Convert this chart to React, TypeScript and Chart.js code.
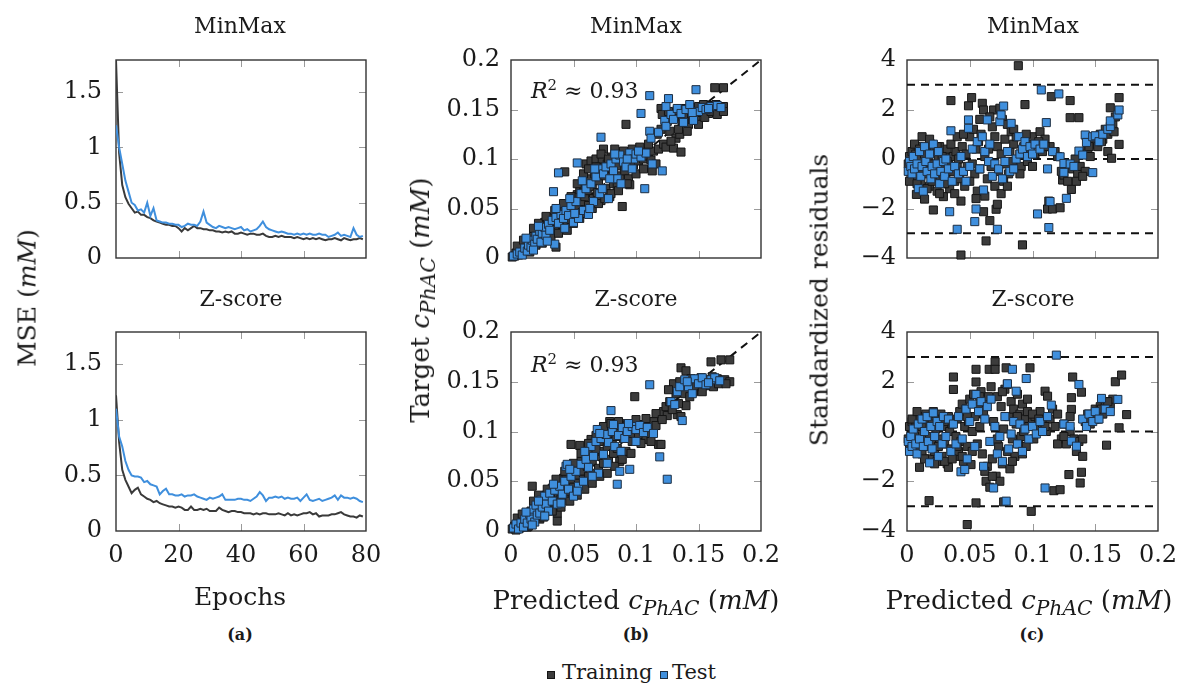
import React, { useEffect, useRef } from 'react';
import { Chart, registerables } from 'chart.js';

Chart.register(...registerables);

const FONT = '"DejaVu Serif", "Liberation Serif", serif';
const INK = '#1a1a1a';
const DARK = '#3a3a3a';
const BLUE = '#3f8fdd';

// ---------- tick labels ----------
const epochTicks = [0, 20, 40, 60, 80];
const mseTicks = [0, 0.5, 1, 1.5];
const concTicks = [0, 0.05, 0.1, 0.15, 0.2];
const residTicks = [-4, -2, 0, 2, 4];
const residLimits = [-3, 0, 3];
const identityLine = [0, 0.2];

// ---------- (a) loss curves ----------
const epochs = Array.from({ length: 80 }, (_, i) => i);

const mseMinMaxTrain = [1.79, 0.95, 0.66, 0.55, 0.49, 0.45, 0.41, 0.42, 0.39, 0.39,
  0.37, 0.36, 0.34, 0.33, 0.32, 0.31, 0.30, 0.30, 0.29, 0.29,
  0.27, 0.24, 0.27, 0.25, 0.27, 0.29, 0.27, 0.27, 0.26, 0.26,
  0.25, 0.25, 0.24, 0.24, 0.23, 0.24, 0.23, 0.24, 0.22, 0.22,
  0.23, 0.22, 0.21, 0.22, 0.22, 0.21, 0.21, 0.22, 0.20, 0.19,
  0.19, 0.20, 0.19, 0.20, 0.19, 0.19, 0.19, 0.18, 0.19, 0.18,
  0.17, 0.18, 0.17, 0.18, 0.17, 0.18, 0.17, 0.16, 0.17, 0.17,
  0.18, 0.17, 0.16, 0.18, 0.17, 0.16, 0.17, 0.17, 0.18, 0.17];

const mseMinMaxTest = [1.20, 1.00, 0.85, 0.70, 0.60, 0.50, 0.48, 0.43, 0.44, 0.41,
  0.50, 0.38, 0.45, 0.34, 0.33, 0.32, 0.32, 0.31, 0.31, 0.30,
  0.30, 0.28, 0.29, 0.31, 0.30, 0.30, 0.29, 0.33, 0.42, 0.32,
  0.30, 0.28, 0.27, 0.29, 0.28, 0.27, 0.28, 0.27, 0.26, 0.27,
  0.28, 0.25, 0.26, 0.24, 0.25, 0.26, 0.29, 0.33, 0.28, 0.26,
  0.25, 0.24, 0.23, 0.24, 0.23, 0.22, 0.22, 0.21, 0.22, 0.21,
  0.22, 0.21, 0.22, 0.21, 0.21, 0.22, 0.21, 0.21, 0.19, 0.20,
  0.21, 0.23, 0.20, 0.21, 0.20, 0.19, 0.27, 0.21, 0.19, 0.20];

const mseZscoreTrain = [1.22, 0.80, 0.55, 0.46, 0.40, 0.34, 0.37, 0.39, 0.33, 0.31,
  0.29, 0.28, 0.26, 0.27, 0.25, 0.24, 0.23, 0.22, 0.22, 0.21,
  0.22, 0.21, 0.19, 0.19, 0.22, 0.19, 0.19, 0.20, 0.19, 0.20,
  0.18, 0.18, 0.18, 0.21, 0.19, 0.18, 0.17, 0.18, 0.18, 0.17,
  0.17, 0.16, 0.16, 0.16, 0.15, 0.16, 0.15, 0.16, 0.16, 0.15,
  0.15, 0.15, 0.16, 0.15, 0.14, 0.16, 0.14, 0.15, 0.14, 0.15,
  0.16, 0.16, 0.17, 0.15, 0.16, 0.13, 0.14, 0.14, 0.14, 0.15,
  0.15, 0.16, 0.17, 0.15, 0.14, 0.13, 0.13, 0.12, 0.14, 0.13];

const mseZscoreTest = [1.10, 0.85, 0.76, 0.63, 0.55, 0.50, 0.49, 0.49, 0.48, 0.44,
  0.45, 0.42, 0.41, 0.40, 0.33, 0.36, 0.38, 0.33, 0.33, 0.32,
  0.32, 0.33, 0.31, 0.32, 0.32, 0.33, 0.31, 0.30, 0.29, 0.28,
  0.30, 0.29, 0.30, 0.31, 0.33, 0.28, 0.28, 0.28, 0.28, 0.29,
  0.29, 0.28, 0.28, 0.27, 0.29, 0.31, 0.35, 0.32, 0.27, 0.30,
  0.30, 0.31, 0.30, 0.31, 0.29, 0.30, 0.29, 0.29, 0.30, 0.27,
  0.30, 0.33, 0.28, 0.27, 0.28, 0.29, 0.27, 0.28, 0.29, 0.30,
  0.32, 0.28, 0.32, 0.30, 0.30, 0.29, 0.30, 0.29, 0.27, 0.26];

// ---------- (b) predicted vs target : [predicted, target] ----------
const predMinMaxTrain = [
  [0.001, 0.001], [0.003, 0.002], [0.004, 0.005], [0.006, 0.003], [0.007, 0.008], [0.008, 0.004], [0.009, 0.011], [0.011, 0.007],
  [0.012, 0.013], [0.013, 0.009], [0.014, 0.016], [0.015, 0.012], [0.016, 0.019], [0.017, 0.014], [0.018, 0.022], [0.019, 0.017],
  [0.02, 0.013], [0.021, 0.025], [0.022, 0.02], [0.023, 0.029], [0.024, 0.017], [0.025, 0.031], [0.026, 0.024], [0.027, 0.036],
  [0.028, 0.027], [0.029, 0.033], [0.03, 0.022], [0.031, 0.038], [0.032, 0.03], [0.033, 0.041], [0.034, 0.034], [0.035, 0.027],
  [0.036, 0.011], [0.036, 0.044], [0.037, 0.037], [0.038, 0.031], [0.039, 0.046], [0.04, 0.04], [0.041, 0.034], [0.043, 0.087],
  [0.043, 0.048], [0.044, 0.042], [0.045, 0.036], [0.046, 0.052], [0.047, 0.045], [0.048, 0.039], [0.049, 0.055], [0.05, 0.048],
  [0.051, 0.06], [0.052, 0.043], [0.053, 0.064], [0.054, 0.052], [0.055, 0.069], [0.056, 0.057], [0.057, 0.046], [0.058, 0.074],
  [0.059, 0.062], [0.06, 0.095], [0.061, 0.068], [0.062, 0.053], [0.063, 0.08], [0.064, 0.098], [0.065, 0.072], [0.066, 0.06],
  [0.067, 0.085], [0.068, 0.1], [0.069, 0.066], [0.07, 0.078], [0.071, 0.092], [0.072, 0.058], [0.073, 0.1], [0.074, 0.11],
  [0.075, 0.083], [0.076, 0.07], [0.077, 0.095], [0.078, 0.087], [0.079, 0.062], [0.08, 0.102], [0.081, 0.09], [0.082, 0.075],
  [0.083, 0.098], [0.084, 0.105], [0.085, 0.072], [0.086, 0.093], [0.087, 0.083], [0.088, 0.101], [0.089, 0.052], [0.09, 0.097],
  [0.091, 0.088], [0.092, 0.135], [0.093, 0.104], [0.094, 0.08], [0.095, 0.074], [0.096, 0.099], [0.098, 0.094], [0.1, 0.105],
  [0.102, 0.098], [0.104, 0.106], [0.106, 0.1], [0.108, 0.103], [0.11, 0.107], [0.112, 0.099], [0.114, 0.108], [0.116, 0.095],
  [0.118, 0.11], [0.12, 0.151], [0.121, 0.145], [0.122, 0.115], [0.124, 0.112], [0.125, 0.138], [0.127, 0.128], [0.13, 0.111],
  [0.131, 0.143], [0.132, 0.121], [0.133, 0.149], [0.135, 0.125], [0.136, 0.107], [0.137, 0.137], [0.139, 0.151], [0.14, 0.143],
  [0.142, 0.135], [0.144, 0.152], [0.146, 0.145], [0.148, 0.139], [0.15, 0.153], [0.152, 0.147], [0.154, 0.155], [0.156, 0.15],
  [0.158, 0.146], [0.16, 0.154], [0.162, 0.149], [0.164, 0.155], [0.163, 0.172], [0.166, 0.151], [0.168, 0.148], [0.17, 0.172],
  [0.17, 0.153],
  [0.005, 0.012], [0.01, 0.018], [0.015, 0.006], [0.018, 0.03], [0.022, 0.035], [0.025, 0.015], [0.028, 0.042], [0.032, 0.02],
  [0.035, 0.048], [0.038, 0.025], [0.042, 0.055], [0.045, 0.028], [0.048, 0.062], [0.05, 0.035], [0.053, 0.075], [0.055, 0.04],
  [0.058, 0.085], [0.06, 0.045], [0.062, 0.09], [0.065, 0.05], [0.068, 0.092], [0.07, 0.055], [0.072, 0.105], [0.075, 0.06],
  [0.078, 0.1], [0.08, 0.065], [0.083, 0.11], [0.086, 0.068], [0.09, 0.108], [0.093, 0.075], [0.097, 0.11], [0.1, 0.085],
  [0.103, 0.112], [0.106, 0.09], [0.11, 0.115], [0.113, 0.088], [0.117, 0.125], [0.12, 0.13], [0.126, 0.148], [0.128, 0.118],
  [0.134, 0.13], [0.138, 0.145], [0.141, 0.128], [0.145, 0.14], [0.15, 0.135], [0.155, 0.142], [0.16, 0.148], [0.165, 0.145],
  [0.17, 0.148]];

const predMinMaxTest = [
  [0.002, 0.002], [0.005, 0.004], [0.007, 0.006], [0.009, 0.003], [0.011, 0.01], [0.013, 0.007], [0.014, 0.013], [0.016, 0.011],
  [0.017, 0.018], [0.019, 0.014], [0.02, 0.022], [0.021, 0.019], [0.023, 0.027], [0.024, 0.016], [0.025, 0.025], [0.027, 0.031],
  [0.028, 0.023], [0.03, 0.034], [0.031, 0.028], [0.033, 0.038], [0.034, 0.067], [0.035, 0.014], [0.036, 0.041], [0.038, 0.035],
  [0.038, 0.086], [0.04, 0.044], [0.042, 0.04], [0.044, 0.048], [0.046, 0.043], [0.048, 0.053], [0.05, 0.036], [0.052, 0.057],
  [0.053, 0.096], [0.054, 0.04], [0.056, 0.065], [0.058, 0.048], [0.06, 0.07], [0.062, 0.044], [0.064, 0.075], [0.066, 0.057],
  [0.068, 0.082], [0.07, 0.09], [0.071, 0.065], [0.072, 0.122], [0.074, 0.085], [0.076, 0.092], [0.078, 0.06], [0.08, 0.095],
  [0.082, 0.088], [0.084, 0.1], [0.085, 0.08], [0.087, 0.104], [0.09, 0.097], [0.092, 0.092], [0.095, 0.106], [0.098, 0.1],
  [0.1, 0.105], [0.104, 0.102], [0.104, 0.146], [0.107, 0.07], [0.108, 0.106], [0.111, 0.164], [0.111, 0.128], [0.112, 0.121],
  [0.113, 0.095], [0.118, 0.127], [0.121, 0.088], [0.123, 0.139], [0.124, 0.133], [0.124, 0.153], [0.126, 0.161], [0.128, 0.145],
  [0.13, 0.14], [0.133, 0.151], [0.136, 0.146], [0.138, 0.137], [0.14, 0.15], [0.143, 0.155], [0.146, 0.139], [0.148, 0.17],
  [0.15, 0.148], [0.153, 0.152], [0.156, 0.15], [0.16, 0.153], [0.165, 0.154], [0.168, 0.152],
  [0.012, 0.02], [0.018, 0.008], [0.022, 0.032], [0.029, 0.017], [0.036, 0.05], [0.043, 0.03], [0.047, 0.06], [0.051, 0.045],
  [0.057, 0.078], [0.063, 0.05], [0.067, 0.09], [0.073, 0.07], [0.079, 0.08], [0.083, 0.105], [0.088, 0.075], [0.093, 0.1],
  [0.097, 0.09], [0.102, 0.108], [0.145, 0.147], [0.158, 0.151]];

const predZscoreTrain = [
  [0.001, 0.002], [0.003, 0.005], [0.004, 0.001], [0.006, 0.007], [0.007, 0.003], [0.008, 0.01], [0.01, 0.006], [0.011, 0.013],
  [0.012, 0.009], [0.013, 0.004], [0.014, 0.016], [0.015, 0.011], [0.016, 0.02], [0.017, 0.045], [0.018, 0.014], [0.019, 0.023],
  [0.02, 0.017], [0.021, 0.027], [0.022, 0.02], [0.023, 0.012], [0.024, 0.03], [0.025, 0.024], [0.026, 0.033], [0.027, 0.019],
  [0.028, 0.036], [0.029, 0.028], [0.03, 0.04], [0.031, 0.025], [0.032, 0.033], [0.033, 0.043], [0.034, 0.03], [0.035, 0.022],
  [0.036, 0.046], [0.037, 0.01], [0.037, 0.018], [0.038, 0.038], [0.039, 0.05], [0.04, 0.032], [0.041, 0.045], [0.042, 0.053],
  [0.043, 0.036], [0.044, 0.058], [0.045, 0.048], [0.046, 0.04], [0.047, 0.062], [0.048, 0.087], [0.049, 0.052], [0.05, 0.044],
  [0.052, 0.066], [0.053, 0.056], [0.054, 0.048], [0.055, 0.086], [0.056, 0.07], [0.057, 0.06], [0.058, 0.052], [0.06, 0.075],
  [0.061, 0.065], [0.062, 0.055], [0.063, 0.08], [0.064, 0.092], [0.065, 0.07], [0.066, 0.058], [0.067, 0.085], [0.068, 0.096],
  [0.069, 0.075], [0.07, 0.063], [0.071, 0.09], [0.072, 0.099], [0.073, 0.08], [0.074, 0.068], [0.075, 0.094], [0.076, 0.102],
  [0.077, 0.085], [0.078, 0.072], [0.079, 0.11], [0.08, 0.098], [0.081, 0.09], [0.082, 0.078], [0.083, 0.104], [0.084, 0.095],
  [0.085, 0.083], [0.086, 0.1], [0.087, 0.07], [0.088, 0.106], [0.09, 0.093], [0.091, 0.101], [0.092, 0.08], [0.094, 0.104],
  [0.096, 0.097], [0.097, 0.09], [0.099, 0.135], [0.1, 0.103], [0.102, 0.097], [0.104, 0.107], [0.106, 0.1], [0.108, 0.092],
  [0.11, 0.104], [0.112, 0.098], [0.114, 0.11], [0.116, 0.106], [0.118, 0.087], [0.12, 0.087], [0.122, 0.12], [0.124, 0.125],
  [0.125, 0.116], [0.127, 0.13], [0.13, 0.148], [0.132, 0.138], [0.133, 0.117], [0.135, 0.15], [0.136, 0.115], [0.136, 0.164],
  [0.138, 0.142], [0.14, 0.161], [0.14, 0.126], [0.142, 0.148], [0.144, 0.153], [0.146, 0.14], [0.148, 0.151], [0.15, 0.145],
  [0.152, 0.154], [0.154, 0.148], [0.156, 0.152], [0.158, 0.146], [0.16, 0.17], [0.161, 0.155], [0.163, 0.15], [0.165, 0.153],
  [0.168, 0.172], [0.168, 0.15], [0.171, 0.152], [0.175, 0.172], [0.175, 0.15],
  [0.005, 0.013], [0.009, 0.017], [0.014, 0.005], [0.018, 0.03], [0.022, 0.036], [0.026, 0.014], [0.029, 0.042], [0.033, 0.02],
  [0.036, 0.052], [0.04, 0.024], [0.043, 0.06], [0.047, 0.03], [0.05, 0.068], [0.053, 0.036], [0.056, 0.078], [0.059, 0.042],
  [0.062, 0.088], [0.065, 0.048], [0.068, 0.082], [0.071, 0.055], [0.074, 0.105], [0.077, 0.058], [0.08, 0.108], [0.083, 0.065],
  [0.086, 0.11], [0.089, 0.072], [0.093, 0.108], [0.096, 0.078], [0.1, 0.112], [0.104, 0.088], [0.108, 0.113], [0.112, 0.09],
  [0.116, 0.118], [0.121, 0.112], [0.126, 0.142], [0.129, 0.122], [0.134, 0.128], [0.139, 0.138], [0.143, 0.135], [0.147, 0.146],
  [0.153, 0.14], [0.157, 0.149], [0.162, 0.145], [0.166, 0.148], [0.172, 0.148]];

const predZscoreTest = [
  [0.002, 0.003], [0.004, 0.007], [0.006, 0.002], [0.008, 0.008], [0.01, 0.004], [0.011, 0.012], [0.013, 0.008], [0.015, 0.017],
  [0.016, 0.012], [0.018, 0.022], [0.019, 0.009], [0.02, 0.026], [0.021, 0.016], [0.023, 0.018], [0.024, 0.031], [0.025, 0.024],
  [0.027, 0.035], [0.028, 0.027], [0.03, 0.02], [0.031, 0.038], [0.033, 0.03], [0.035, 0.041], [0.037, 0.027], [0.039, 0.045],
  [0.041, 0.037], [0.043, 0.05], [0.044, 0.065], [0.045, 0.067], [0.046, 0.042], [0.048, 0.055], [0.05, 0.035], [0.052, 0.06],
  [0.054, 0.045], [0.056, 0.067], [0.058, 0.05], [0.06, 0.072], [0.062, 0.064], [0.064, 0.085], [0.066, 0.075], [0.068, 0.09],
  [0.069, 0.102], [0.07, 0.058], [0.072, 0.093], [0.074, 0.077], [0.076, 0.097], [0.078, 0.089], [0.08, 0.121], [0.081, 0.1],
  [0.083, 0.085], [0.085, 0.047], [0.086, 0.096], [0.087, 0.06], [0.089, 0.104], [0.091, 0.093], [0.093, 0.1], [0.095, 0.062],
  [0.097, 0.105], [0.1, 0.102], [0.103, 0.106], [0.106, 0.099], [0.109, 0.104], [0.111, 0.147], [0.114, 0.098], [0.119, 0.0745],
  [0.125, 0.052], [0.128, 0.13], [0.131, 0.127], [0.133, 0.14], [0.135, 0.145], [0.137, 0.111], [0.139, 0.152], [0.142, 0.145],
  [0.145, 0.138], [0.147, 0.153], [0.15, 0.148], [0.153, 0.154], [0.156, 0.147], [0.16, 0.152], [0.163, 0.154], [0.167, 0.151],
  [0.012, 0.019], [0.017, 0.006], [0.022, 0.03], [0.027, 0.015], [0.034, 0.047], [0.04, 0.028], [0.047, 0.062], [0.053, 0.04],
  [0.059, 0.08], [0.065, 0.055], [0.071, 0.098], [0.077, 0.068], [0.082, 0.107], [0.088, 0.08], [0.094, 0.108], [0.1, 0.09],
  [0.141, 0.15], [0.158, 0.149]];

// ---------- (c) standardized residuals : [predicted, residual] ----------
const residMinMaxTrain = [
  [0.001, -0.2], [0.002, 0.1], [0.003, -0.5], [0.004, 0.3], [0.005, -0.1], [0.006, -0.8], [0.007, 0.2], [0.0075, -1.43],
  [0.008, -0.4], [0.009, 0.5], [0.01, 0.0], [0.011, -0.9], [0.012, 0.9], [0.013, -0.3], [0.014, -1.62], [0.015, 0.4],
  [0.016, -0.6], [0.017, 0.1], [0.018, -1.1], [0.019, 0.6], [0.02, -0.2], [0.021, -2.06], [0.022, 0.3], [0.023, -0.7],
  [0.024, -1.3], [0.025, 0.0], [0.026, 0.5], [0.027, -0.4], [0.028, -1.0], [0.029, -1.52], [0.03, 0.2], [0.031, -0.6],
  [0.032, 0.4], [0.033, -0.2], [0.034, -1.2], [0.035, 2.36], [0.036, -0.5], [0.037, 0.1], [0.038, -0.9], [0.039, 0.3],
  [0.04, -0.3], [0.041, 0.0], [0.042, -0.8], [0.043, -1.7], [0.043, -3.88], [0.044, 0.5], [0.045, -0.5], [0.046, -1.1],
  [0.047, 0.2], [0.048, -0.3], [0.049, 2.15], [0.05, 0.9], [0.0515, 2.48], [0.052, -0.2], [0.053, 1.2], [0.054, -0.6],
  [0.055, 0.4], [0.056, -1.3], [0.057, 0.7], [0.058, -0.4], [0.059, 1.0], [0.06, 2.25], [0.061, 1.98], [0.061, -2.13],
  [0.062, 0.1], [0.063, -3.31], [0.064, -0.8], [0.065, 0.4], [0.066, -2.49], [0.067, -0.3], [0.068, 1.3], [0.069, 1.98],
  [0.07, -1.1], [0.071, -2.03], [0.072, -1.83], [0.072, 0.5], [0.073, -0.5], [0.074, 2.05], [0.075, 0.2], [0.076, 1.6],
  [0.077, -0.9], [0.078, 0.8], [0.079, -0.2], [0.08, 1.4], [0.081, -0.6], [0.082, 0.3], [0.083, 1.1], [0.084, -0.1],
  [0.085, 0.6], [0.086, -0.4], [0.087, 0.9], [0.0887, 3.77], [0.09, 0.2], [0.091, -0.3], [0.092, -3.47], [0.093, 0.5],
  [0.094, 2.2], [0.095, 0.8], [0.096, -0.1], [0.098, 0.4], [0.1, 0.9], [0.102, 0.2], [0.104, 0.6], [0.106, 1.1],
  [0.108, 0.3], [0.11, 0.8], [0.112, -2.02], [0.113, -1.7], [0.114, 0.5], [0.115, 2.52], [0.116, -2.02], [0.118, 0.3],
  [0.12, 0.1], [0.122, -1.97], [0.123, -0.5], [0.124, -0.85], [0.125, -0.65], [0.126, -0.2], [0.128, -0.9], [0.13, 2.36],
  [0.13, 1.67], [0.131, -1.23], [0.132, -0.4], [0.134, 0.0], [0.136, -0.6], [0.137, 1.67], [0.138, -0.3], [0.14, 0.2],
  [0.142, -0.5], [0.144, 0.4], [0.146, 0.1], [0.148, 0.6], [0.15, 0.9], [0.152, 0.5], [0.154, 1.0], [0.156, 0.8],
  [0.158, 1.2], [0.16, 0.3], [0.162, 2.07], [0.163, 0.03], [0.164, 1.4], [0.166, 1.7], [0.169, 2.48], [0.169, 0.59],
  [0.002, -0.9], [0.004, -0.3], [0.006, 0.6], [0.008, -1.0], [0.01, 0.4], [0.012, -0.5], [0.014, 0.2], [0.016, -1.2],
  [0.018, 0.8], [0.02, -0.9], [0.022, -0.4], [0.024, 0.5], [0.026, -1.4], [0.028, 0.1], [0.03, -1.0], [0.032, -0.1],
  [0.035, 0.6], [0.038, -1.4], [0.04, 0.9], [0.045, 1.0], [0.05, -0.9], [0.055, -1.6], [0.058, 1.6], [0.062, -1.5],
  [0.066, 1.7], [0.07, 0.9], [0.075, -1.4], [0.08, -1.1], [0.085, 1.2], [0.09, -0.6], [0.095, 1.0], [0.1, -0.3],
  [0.105, 0.7], [0.11, 0.5], [0.135, -0.9], [0.14, -0.7], [0.145, 0.5], [0.155, 0.7], [0.16, 1.0], [0.165, 1.1]];

const residMinMaxTest = [
  [0.001, -0.5], [0.002, -0.1], [0.003, -0.3], [0.004, -0.6], [0.005, 0.1], [0.006, -0.4], [0.008, -0.2], [0.009, -1.2],
  [0.01, 0.3], [0.011, -0.7], [0.012, -0.3], [0.013, -1.3], [0.014, 0.5], [0.015, -0.1], [0.016, -0.5], [0.018, 0.2],
  [0.019, -0.8], [0.02, -0.3], [0.021, 0.6], [0.022, -0.6], [0.024, -0.2], [0.025, 0.3], [0.026, -1.0], [0.027, -0.5],
  [0.029, -0.1], [0.03, -0.7], [0.031, 0.0], [0.033, -0.4], [0.034, -2.13], [0.035, 1.14], [0.036, -0.9], [0.038, -0.3],
  [0.04, -2.84], [0.041, -0.6], [0.043, 0.1], [0.045, -0.5], [0.047, -0.9], [0.049, 1.58], [0.049, 1.24], [0.05, -0.3],
  [0.052, 0.4], [0.054, -2.53], [0.055, -2.02], [0.056, 0.7], [0.058, -0.4], [0.06, 0.9], [0.061, -1.25], [0.062, 0.3],
  [0.064, 1.58], [0.065, -0.1], [0.066, 0.6], [0.068, -0.7], [0.07, -0.2], [0.072, -2.84], [0.073, -0.4], [0.074, 1.51],
  [0.075, 1.78], [0.076, -0.8], [0.077, 2.14], [0.078, -0.1], [0.08, 0.3], [0.082, -0.5], [0.083, 1.44], [0.085, -0.4],
  [0.087, 0.0], [0.089, 0.9], [0.09, 0.2], [0.092, 0.4], [0.094, 0.7], [0.096, 0.1], [0.098, 0.5], [0.1, 0.2],
  [0.102, 0.6], [0.104, -2.22], [0.106, 0.4], [0.107, 2.79], [0.109, 0.6], [0.111, 1.47], [0.112, -0.4], [0.113, -2.77],
  [0.114, -1.72], [0.116, 0.3], [0.121, 2.63], [0.122, 0.09], [0.125, -0.18], [0.125, -0.54], [0.127, -1.59], [0.13, -0.2],
  [0.133, -0.3], [0.137, 0.32], [0.14, 0.16], [0.142, 0.97], [0.143, 0.67], [0.148, -0.55], [0.148, 0.9], [0.15, 0.94],
  [0.153, 0.7], [0.156, 1.0], [0.16, 1.2], [0.162, 1.31], [0.162, 1.54], [0.168, 1.78], [0.169, 1.98]];

const residZscoreTrain = [
  [0.001, -0.3], [0.002, 0.2], [0.003, -0.6], [0.004, 0.4], [0.005, -0.1], [0.006, -0.8], [0.007, 0.3], [0.008, -0.4],
  [0.009, 0.6], [0.01, -1.44], [0.011, 0.0], [0.012, -0.9], [0.013, 0.5], [0.014, -0.2], [0.015, 0.7], [0.016, -0.6],
  [0.017, 0.2], [0.0176, -2.78], [0.018, -1.1], [0.019, 0.4], [0.02, -0.4], [0.021, 0.8], [0.022, -0.8], [0.023, 0.1],
  [0.024, -1.2], [0.025, 0.5], [0.026, -0.3], [0.027, 0.7], [0.028, -1.0], [0.029, 0.2], [0.03, -0.5], [0.031, 0.4],
  [0.032, -1.3], [0.033, -1.44], [0.034, 0.0], [0.035, -0.7], [0.036, 0.3], [0.037, 2.19], [0.037, 1.69], [0.038, -1.0],
  [0.039, -0.2], [0.04, 0.5], [0.041, -0.8], [0.042, 0.8], [0.043, -0.4], [0.044, 1.1], [0.045, -1.2], [0.046, 0.2],
  [0.047, 0.9], [0.048, -3.74], [0.048, -0.6], [0.049, 0.4], [0.05, 1.3], [0.051, -1.33], [0.052, 0.0], [0.053, 1.5],
  [0.054, 0.6], [0.055, 2.5], [0.055, 1.99], [0.055, -2.87], [0.056, -0.5], [0.057, 1.0], [0.058, 0.2], [0.059, 1.6],
  [0.06, -0.9], [0.061, 0.7], [0.062, 1.2], [0.063, -2.0], [0.064, -1.4], [0.0655, 2.5], [0.066, -2.24], [0.067, 1.8],
  [0.068, -1.1], [0.069, 0.4], [0.0702, 2.8], [0.0702, 2.5], [0.071, -1.8], [0.072, 1.4], [0.073, -0.6], [0.074, -2.0],
  [0.075, 1.0], [0.076, -1.3], [0.077, -2.83], [0.077, 0.1], [0.078, 1.7], [0.079, 2.56], [0.08, -0.8], [0.081, 0.6],
  [0.082, -1.5], [0.083, 1.2], [0.084, -0.3], [0.085, 0.9], [0.086, -1.0], [0.087, 0.3], [0.088, 1.5], [0.089, -0.5],
  [0.09, 0.7], [0.091, -0.2], [0.092, 1.1], [0.093, 0.0], [0.094, 0.5], [0.095, -0.6], [0.096, 0.8], [0.097, 0.2],
  [0.098, 2.56], [0.099, -3.21], [0.1, 0.4], [0.101, -0.3], [0.102, 0.6], [0.104, 0.1], [0.106, 0.8], [0.108, 0.3],
  [0.11, 1.62], [0.111, 0.0], [0.112, 1.42], [0.114, 0.5], [0.116, 0.9], [0.117, -2.38], [0.118, 0.2], [0.12, 0.7],
  [0.122, -2.34], [0.123, -0.3], [0.125, 0.3], [0.127, -0.5], [0.129, -1.73], [0.13, 0.0], [0.131, 1.36], [0.131, 0.89],
  [0.132, 2.19], [0.133, -0.3], [0.135, -0.8], [0.137, -0.4], [0.138, -2.07], [0.139, -1.64], [0.139, 1.58], [0.14, -1.0],
  [0.142, 0.4], [0.144, 0.7], [0.146, 0.3], [0.148, 0.6], [0.15, 0.9], [0.152, 0.5], [0.154, 1.0], [0.156, 0.7],
  [0.158, 1.2], [0.159, -0.55], [0.16, 0.9], [0.162, 1.1], [0.164, 1.3], [0.166, 2.0], [0.169, 0.15], [0.171, 2.27],
  [0.175, 0.68],
  [0.002, -0.7], [0.004, 0.5], [0.006, -0.2], [0.008, 0.8], [0.01, -0.6], [0.012, 0.2], [0.014, -1.1], [0.016, 0.5],
  [0.018, -0.2], [0.02, 0.3], [0.022, -1.3], [0.025, -0.6], [0.028, 0.5], [0.03, -1.2], [0.033, 0.6], [0.036, -1.1],
  [0.04, -0.6], [0.044, -1.0], [0.048, 0.6], [0.052, -0.8], [0.058, 1.4], [0.062, -1.6], [0.065, 1.4], [0.068, -1.8],
  [0.072, -0.3], [0.076, 1.6], [0.08, 1.9], [0.084, -1.2], [0.088, 0.6], [0.092, -0.9], [0.096, 1.3], [0.1, 0.7],
  [0.105, 0.5], [0.11, 0.2], [0.12, -0.5], [0.125, -0.2], [0.13, 0.6], [0.14, -0.3], [0.145, 0.5], [0.15, 0.5],
  [0.155, 0.9], [0.16, 1.2]];

const residZscoreTest = [
  [0.001, -0.4], [0.002, -0.8], [0.003, -0.2], [0.004, -0.6], [0.005, 0.1], [0.007, -0.5], [0.008, -0.9], [0.009, 0.3],
  [0.01, -0.3], [0.012, 0.5], [0.013, -0.6], [0.014, 0.0], [0.016, 0.6], [0.017, -0.4], [0.018, -1.26], [0.019, 0.2],
  [0.02, -0.7], [0.021, 0.75], [0.022, -0.2], [0.024, 0.4], [0.025, -1.0], [0.026, 0.2], [0.028, -0.5], [0.029, 0.6],
  [0.031, -0.2], [0.033, 0.5], [0.035, -0.8], [0.037, 0.3], [0.039, -0.5], [0.041, 0.6], [0.043, -1.62], [0.044, -0.3],
  [0.046, -1.53], [0.047, 0.9], [0.048, -1.1], [0.05, 0.4], [0.052, 1.1], [0.054, -0.6], [0.055, 1.49], [0.057, 0.8],
  [0.059, 1.2], [0.061, -1.4], [0.062, 0.5], [0.064, 1.0], [0.066, -0.4], [0.067, 1.3], [0.069, -2.27], [0.07, 0.2],
  [0.072, -0.9], [0.074, -0.2], [0.076, -1.2], [0.078, 0.6], [0.079, -2.8], [0.08, 1.92], [0.081, -0.7], [0.083, -0.1],
  [0.084, 2.5], [0.085, 0.4], [0.087, 1.62], [0.088, -0.5], [0.09, 0.3], [0.092, -0.8], [0.094, 0.1], [0.095, 2.13],
  [0.097, -0.3], [0.1, 0.2], [0.103, -0.1], [0.106, 0.4], [0.108, 0.0], [0.11, -2.27], [0.112, 0.6], [0.115, 1.06],
  [0.119, 3.07], [0.125, 0.3], [0.13, 0.21], [0.131, -0.39], [0.135, -0.59], [0.137, 1.89], [0.14, 0.5], [0.143, 0.2],
  [0.145, 0.7], [0.148, 0.4], [0.15, 0.8], [0.153, 0.5], [0.155, 1.33], [0.158, 0.9], [0.162, 0.8], [0.168, 1.29]];

// ---------- layout ----------
type Rect = { L: number; T: number; R: number; B: number };
const PAD_L = 100, PAD_T = 24, PAD_R = 34, PAD_B = 54;
const TICK_SIZE = 24;

const fmtPlain = (v: number) => String(+v.toFixed(2));
const fmtSigned = (v: number) => (v < 0 ? '\u2212' + String(-v) : String(v));

const framePlugin = {
  id: 'frameTicks',
  beforeDatasetsDraw(chart: any) {
    const { ctx, chartArea } = chart;
    const { left, top, right, bottom } = chartArea;
    const sx = chart.scales.x, sy = chart.scales.y;
    const tl = 7;
    ctx.save();
    ctx.strokeStyle = '#9a9a9a';
    ctx.lineWidth = 1;
    ctx.beginPath();
    sx.ticks.forEach((t: any) => {
      const p = Math.round(sx.getPixelForValue(t.value)) + 0.5;
      if (p > left + 2 && p < right - 2) {
        ctx.moveTo(p, bottom); ctx.lineTo(p, bottom - tl);
        ctx.moveTo(p, top); ctx.lineTo(p, top + tl);
      }
    });
    sy.ticks.forEach((t: any) => {
      const p = Math.round(sy.getPixelForValue(t.value)) + 0.5;
      if (p > top + 2 && p < bottom - 2) {
        ctx.moveTo(left, p); ctx.lineTo(left + tl, p);
        ctx.moveTo(right, p); ctx.lineTo(right - tl, p);
      }
    });
    ctx.stroke();
    ctx.strokeStyle = '#333333';
    ctx.lineWidth = 1.4;
    ctx.strokeRect(left, top, right - left, bottom - top);
    ctx.restore();
  },
};

function axes(o: {
  xMin: number; xMax: number; xTicks: number[]; xFmt: (v: number) => string; showX: boolean;
  yMin: number; yMax: number; yTicks: number[]; yFmt: (v: number) => string; yPad: number;
}) {
  const font = { family: FONT, size: TICK_SIZE };
  return {
    x: {
      type: 'linear', min: o.xMin, max: o.xMax,
      grid: { display: false, drawTicks: false },
      border: { display: false },
      ticks: {
        display: o.showX, font, color: INK, padding: 10, maxRotation: 0, autoSkip: false, includeBounds: false,
        callback: (v: any) => o.xFmt(Number(v)),
      },
      afterBuildTicks: (s: any) => { s.ticks = o.xTicks.map((v) => ({ value: v })); },
      afterFit: (s: any) => { s.height = PAD_B; s.paddingLeft = 0; s.paddingRight = 0; },
    },
    y: {
      type: 'linear', min: o.yMin, max: o.yMax,
      grid: { display: false, drawTicks: false },
      border: { display: false },
      ticks: {
        font, color: INK, padding: o.yPad, autoSkip: false, includeBounds: false,
        callback: (v: any) => o.yFmt(Number(v)),
      },
      afterBuildTicks: (s: any) => { s.ticks = o.yTicks.map((v) => ({ value: v })); },
      afterFit: (s: any) => { s.width = PAD_L; s.paddingTop = 0; s.paddingBottom = 0; },
    },
  };
}

const baseOptions = (scales: any) => ({
  responsive: false,
  animation: false,
  events: [],
  layout: { padding: { left: 0, top: PAD_T, right: PAD_R, bottom: 0 } },
  plugins: { legend: { display: false }, tooltip: { enabled: false }, title: { display: false } },
  scales,
});

function lossConfig(train: number[], test: number[], showX: boolean) {
  return {
    type: 'line',
    data: {
      datasets: [
        { label: 'Test', data: epochs.map((e, i) => ({ x: e, y: test[i] })), borderColor: BLUE, borderWidth: 2, pointRadius: 0, tension: 0, order: 1 },
        { label: 'Training', data: epochs.map((e, i) => ({ x: e, y: train[i] })), borderColor: DARK, borderWidth: 2, pointRadius: 0, tension: 0, order: 2 },
      ],
    },
    options: baseOptions(axes({
      xMin: 0, xMax: 80, xTicks: epochTicks, xFmt: fmtPlain, showX,
      yMin: 0, yMax: 1.79, yTicks: mseTicks, yFmt: fmtPlain, yPad: 14,
    })),
    plugins: [framePlugin],
  };
}

const markerTrain = {
  pointStyle: 'rect', pointRadius: 5.7, backgroundColor: '#3c3c3c', borderColor: '#151515', borderWidth: 1,
  showLine: false, clip: false, order: 2,
};
const markerTest = {
  pointStyle: 'rect', pointRadius: 5.7, backgroundColor: BLUE, borderColor: '#1d2e42', borderWidth: 1,
  showLine: false, clip: false, order: 1,
};
const dashed = {
  type: 'line', borderColor: '#111', borderWidth: 2, borderDash: [8, 6], pointRadius: 0, showLine: true, order: 3,
};

const toXY = (arr: number[][]) => arr.map((p) => ({ x: p[0], y: p[1] }));

function predConfig(train: number[][], test: number[][], showX: boolean) {
  return {
    type: 'scatter',
    data: {
      datasets: [
        { ...dashed, label: 'Ideal', data: identityLine.map((v) => ({ x: v, y: v })) },
        { ...markerTrain, label: 'Training', data: toXY(train) },
        { ...markerTest, label: 'Test', data: toXY(test) },
      ],
    },
    options: baseOptions(axes({
      xMin: 0, xMax: 0.2, xTicks: concTicks, xFmt: fmtPlain, showX,
      yMin: 0, yMax: 0.2, yTicks: concTicks, yFmt: fmtPlain, yPad: 11,
    })),
    plugins: [framePlugin],
  };
}

function residConfig(train: number[][], test: number[][], showX: boolean) {
  return {
    type: 'scatter',
    data: {
      datasets: [
        ...residLimits.map((lim) => ({ ...dashed, label: 'limit ' + lim, data: identityLine.map((v) => ({ x: v, y: lim })) })),
        { ...markerTrain, label: 'Training', data: toXY(train) },
        { ...markerTest, label: 'Test', data: toXY(test) },
      ],
    },
    options: baseOptions(axes({
      xMin: 0, xMax: 0.2, xTicks: concTicks, xFmt: fmtPlain, showX,
      yMin: -4, yMax: 4, yTicks: residTicks, yFmt: fmtSigned, yPad: 11,
    })),
    plugins: [framePlugin],
  };
}

function Panel({ rect, make }: { rect: Rect; make: () => any }) {
  const ref = useRef<HTMLCanvasElement>(null);
  const w = rect.R - rect.L + PAD_L + PAD_R;
  const h = rect.B - rect.T + PAD_T + PAD_B;
  useEffect(() => {
    Chart.defaults.font.family = FONT;
    const chart = new Chart(ref.current as HTMLCanvasElement, make());
    return () => chart.destroy();
  }, []);
  return (
    <canvas ref={ref} width={w} height={h}
      style={{ position: 'absolute', left: rect.L - PAD_L, top: rect.T - PAD_T, width: w, height: h }} />
  );
}

// text placed by baseline
function Txt({ x, y, size, children, align = 'center', bold = false }: any) {
  const tx = align === 'center' ? '-50%' : align === 'right' ? '-100%' : '0';
  return (
    <div style={{
      position: 'absolute', left: x, top: y - 0.846 * size, fontSize: size, lineHeight: `${size}px`,
      fontFamily: FONT, color: INK, whiteSpace: 'nowrap', transform: `translateX(${tx})`, fontWeight: bold ? 700 : 400,
    }}>{children}</div>
  );
}

function VTxt({ cx, cy, size, children }: any) {
  return (
    <div style={{
      position: 'absolute', left: cx, top: cy, fontSize: size, lineHeight: `${size}px`, fontFamily: FONT, color: INK,
      whiteSpace: 'nowrap', transform: 'translate(-50%, -50%) rotate(-90deg)',
    }}>{children}</div>
  );
}

const cSub = (
  <span><i>c</i><sub style={{ fontSize: '0.78em', verticalAlign: '-0.28em', lineHeight: 0 }}><i>PhAC</i></sub></span>
);

function LegendBox({ x, fill, border }: any) {
  return <div style={{ position: 'absolute', left: x, top: 671, width: 6, height: 6, background: fill, border: `1px solid ${border}` }} />;
}

const rects: Record<string, Rect> = {
  a1: { L: 116, T: 60, R: 366, B: 258 },
  a2: { L: 116, T: 332, R: 366, B: 531 },
  b1: { L: 511, T: 60, R: 761, B: 258 },
  b2: { L: 511, T: 332, R: 761, B: 531 },
  c1: { L: 907, T: 60, R: 1158, B: 258 },
  c2: { L: 907, T: 332, R: 1158, B: 531 },
};

export default function App() {
  return (
    <div style={{ position: 'fixed', left: 0, top: 0, width: 1184, height: 684, background: '#fff', overflow: 'hidden' }}>
      <Panel rect={rects.a1} make={() => lossConfig(mseMinMaxTrain, mseMinMaxTest, false)} />
      <Panel rect={rects.a2} make={() => lossConfig(mseZscoreTrain, mseZscoreTest, true)} />
      <Panel rect={rects.b1} make={() => predConfig(predMinMaxTrain, predMinMaxTest, false)} />
      <Panel rect={rects.b2} make={() => predConfig(predZscoreTrain, predZscoreTest, true)} />
      <Panel rect={rects.c1} make={() => residConfig(residMinMaxTrain, residMinMaxTest, false)} />
      <Panel rect={rects.c2} make={() => residConfig(residZscoreTrain, residZscoreTest, true)} />

      <Txt x={240} y={34} size={22}>MinMax</Txt>
      <Txt x={636} y={34} size={22}>MinMax</Txt>
      <Txt x={1033} y={34} size={22}>MinMax</Txt>
      <Txt x={241} y={307} size={22}>Z-score</Txt>
      <Txt x={636} y={307} size={22}>Z-score</Txt>
      <Txt x={1033} y={307} size={22}>Z-score</Txt>

      <Txt x={531} y={99} size={22} align="left"><i>R</i><sup style={{ fontSize: '0.68em', verticalAlign: '0.55em', lineHeight: 0 }}>2</sup> ≈ 0.93</Txt>
      <Txt x={531} y={373} size={22} align="left"><i>R</i><sup style={{ fontSize: '0.68em', verticalAlign: '0.55em', lineHeight: 0 }}>2</sup> ≈ 0.93</Txt>

      <VTxt cx={27} cy={298} size={25}>MSE (<i>mM</i>)</VTxt>
      <VTxt cx={420} cy={300} size={26}>Target {cSub} (<i>mM</i>)</VTxt>
      <VTxt cx={819} cy={300} size={25}>Standardized residuals</VTxt>

      <Txt x={240} y={605} size={25}>Epochs</Txt>
      <Txt x={636} y={609} size={26}>Predicted {cSub} (<i>mM</i>)</Txt>
      <Txt x={1029} y={609} size={26}>Predicted {cSub} (<i>mM</i>)</Txt>

      <Txt x={240} y={641} size={16} bold>(a)</Txt>
      <Txt x={636} y={641} size={16} bold>(b)</Txt>
      <Txt x={1032} y={641} size={16} bold>(c)</Txt>

      <LegendBox x={547} fill="#3c3c3c" border="#151515" />
      <Txt x={562} y={680} size={21} align="left">Training</Txt>
      <LegendBox x={660} fill={BLUE} border="#1d2e42" />
      <Txt x={672} y={680} size={21} align="left">Test</Txt>
    </div>
  );
}
